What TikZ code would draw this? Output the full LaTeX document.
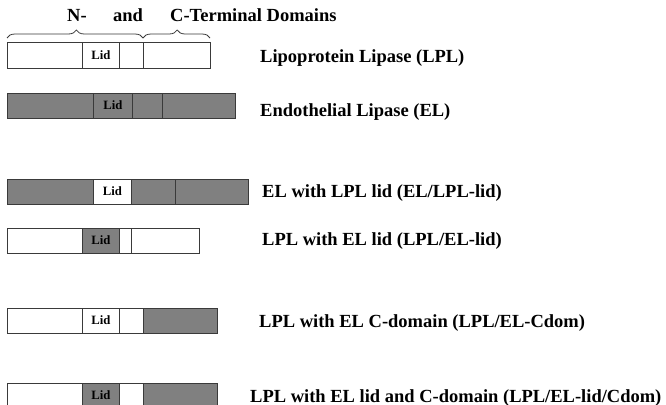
\documentclass[tikz,border=0pt]{standalone}
\usepackage{fontspec}
\setmainfont{Liberation Serif}
\usetikzlibrary{decorations.pathreplacing}
\definecolor{elgray}{HTML}{808080}
\definecolor{linec}{HTML}{3A3A3A}
\tikzset{
  seg/.style={draw=linec, line width=0.9pt, inner sep=0pt, anchor=west, minimum height=25pt, fill=white,
    font=\bfseries\fontsize{12.7}{14}\selectfont},
  elseg/.style={seg, fill=elgray},
  lbl/.style={anchor=base west, inner sep=0pt, font=\bfseries\fontsize{18.5}{20}\selectfont},
  hdr/.style={anchor=base west, inner sep=0pt, font=\bfseries\fontsize{18.5}{20}\selectfont},
  bracestyle/.style={draw=linec, line width=0.8pt, decorate, decoration={brace, amplitude=8pt, aspect=0.51}}
}
\begin{document}
\begin{tikzpicture}[x=1pt, y=-1pt]
\useasboundingbox (0,0) rectangle (666,404);
% header
\node[hdr] (hN) at (67,22) {N-};
\node[hdr] (hand) at (113,22) {and};
\node[hdr] (hC) at (170,22) {C-Terminal Domains};
\coordinate (b1a) at (7,38);
\coordinate (b1b) at (143,38);
\coordinate (b2a) at (143,38);
\coordinate (b2b) at (210,38);
\draw[bracestyle] (b1a) -- (b1b);
\draw[bracestyle] (b2a) -- (b2b);
% row 1: LPL
\node[seg, minimum width=75pt, minimum height=26pt] (r1a) at (7,55) {};
\node[seg, minimum width=37pt, minimum height=26pt] (r1b) at (82,55) {Lid};
\node[seg, minimum width=24pt, minimum height=26pt] (r1c) at (119,55) {};
\node[seg, minimum width=67pt, minimum height=26pt] (r1d) at (143,55) {};
\node[lbl] (l1) at (260,63) {Lipoprotein Lipase (LPL)};
% row 2: EL
\node[elseg, minimum width=86pt] (r2a) at (7,105.5) {};
\node[elseg, minimum width=39pt] (r2b) at (93,105.5) {Lid};
\node[elseg, minimum width=30pt] (r2c) at (132,105.5) {};
\node[elseg, minimum width=73pt] (r2d) at (162,105.5) {};
\node[lbl] (l2) at (260,116) {Endothelial Lipase (EL)};
% row 3: EL/LPL-lid
\node[elseg, minimum width=86pt] (r3a) at (7,191.5) {};
\node[seg, minimum width=38pt] (r3b) at (93,191.5) {Lid};
\node[elseg, minimum width=44pt] (r3c) at (131,191.5) {};
\node[elseg, minimum width=73pt] (r3d) at (175,191.5) {};
\node[lbl] (l3) at (262,197) {EL with LPL lid (EL/LPL-lid)};
% row 4: LPL/EL-lid
\node[seg, minimum width=75pt] (r4a) at (7,240.5) {};
\node[elseg, minimum width=37pt] (r4b) at (82,240.5) {Lid};
\node[seg, minimum width=12pt] (r4c) at (119,240.5) {};
\node[seg, minimum width=68pt] (r4d) at (131,240.5) {};
\node[lbl] (l4) at (262,245) {LPL with EL lid (LPL/EL-lid)};
% row 5: LPL/EL-Cdom
\node[seg, minimum width=75pt] (r5a) at (7,320.5) {};
\node[seg, minimum width=37pt] (r5b) at (82,320.5) {Lid};
\node[seg, minimum width=24pt] (r5c) at (119,320.5) {};
\node[elseg, minimum width=74pt] (r5d) at (143,320.5) {};
\node[lbl] (l5) at (259,327) {LPL with EL C-domain (LPL/EL-Cdom)};
% row 6: LPL/EL-lid/Cdom
\node[seg, minimum width=75pt] (r6a) at (7,395.5) {};
\node[elseg, minimum width=37pt] (r6b) at (82,395.5) {Lid};
\node[seg, minimum width=24pt] (r6c) at (119,395.5) {};
\node[elseg, minimum width=74pt] (r6d) at (143,395.5) {};
\node[lbl] (l6) at (250,402) {LPL with EL lid and C-domain (LPL/EL-lid/Cdom)};
\end{tikzpicture}
\end{document}
